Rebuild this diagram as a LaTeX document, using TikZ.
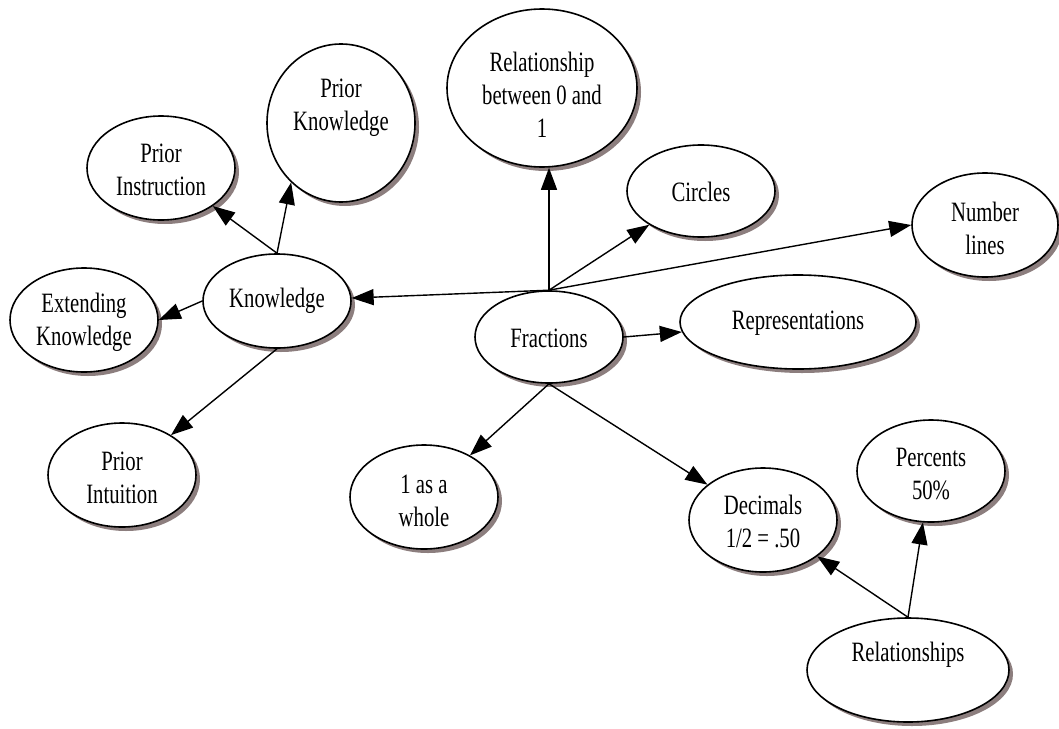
\documentclass[tikz,border=0pt]{standalone}
\usepackage{fontspec}
\setmainfont[FakeStretch=0.74]{Liberation Serif}
\usetikzlibrary{shapes.geometric,shadows,arrows.meta}
\definecolor{shadowc}{RGB}{140,126,126}
\tikzset{
  bubble/.style={ellipse, draw=black, line width=1.6pt, fill=white, inner sep=0pt,
    drop shadow={shadow xshift=4pt, shadow yshift=-4pt, fill=shadowc, opacity=1}},
  lbl/.style={align=center, font=\fontsize{28}{33}\selectfont, inner sep=0pt},
  link/.style={line width=1.4pt, -{Triangle[length=22pt,width=16pt]}}
}
\begin{document}
\begin{tikzpicture}[x=1pt,y=-1pt]
\useasboundingbox (0,0) rectangle (1059,728);

% concept bubbles
\node[bubble, minimum width=190pt, minimum height=158pt] (rel) at (542,88) {};
\node[bubble, minimum width=148pt, minimum height=158pt] (pk) at (341,123) {};
\node[bubble, minimum width=148pt, minimum height=104pt] (pi) at (161,168) {};
\node[bubble, minimum width=148pt, minimum height=92pt] (cir) at (701,191) {};
\node[bubble, minimum width=146pt, minimum height=104pt] (nl) at (985,225) {};
\node[bubble, minimum width=148pt, minimum height=94pt] (k) at (277,301) {};
\node[bubble, minimum width=148pt, minimum height=104pt] (ek) at (84,320) {};
\node[bubble, minimum width=148pt, minimum height=92pt] (f) at (549,337) {};
\node[bubble, minimum width=236pt, minimum height=94pt] (rep) at (798,322) {};
\node[bubble, minimum width=148pt, minimum height=104pt] (pint) at (122,475) {};
\node[bubble, minimum width=148pt, minimum height=104pt] (one) at (424,497) {};
\node[bubble, minimum width=148pt, minimum height=104pt] (dec) at (763,520) {};
\node[bubble, minimum width=148pt, minimum height=102pt] (pc) at (931,471) {};
\node[bubble, minimum width=202pt, minimum height=104pt] (rs) at (908,670) {};

% bubble texts
\node[lbl] (rel-t) at (542,95) {Relationship\\between 0 and\\1};
\node[lbl] (pk-t) at (341,108) {Prior\\Knowledge};
\node[lbl] (pi-t) at (161,170) {Prior\\Instruction};
\node[lbl] (cir-t) at (701,192) {Circles};
\node[lbl] (nl-t) at (985,228) {Number\\lines};
\node[lbl] (k-t) at (277,301) {Knowledge};
\node[lbl] (ek-t) at (84,322) {Extending\\Knowledge};
\node[lbl] (f-t) at (549,338) {Fractions};
\node[lbl] (rep-t) at (798,323) {Representations};
\node[lbl] (pint-t) at (122,478) {Prior\\Intuition};
\node[lbl] (one-t) at (424,501) {1 as a\\whole};
\node[lbl] (dec-t) at (763,521) {Decimals\\1/2 = .50};
\node[lbl] (pc-t) at (931,474) {Percents\\50\%};
\node[lbl] (rs-t) at (908,655) {Relationships};

% links
\draw[link] (f.north) -- (f.north |- rel.south);
\draw[link] (f.north) -- (cir);
\draw[link] (f.north) -- (nl.west);
\draw[link] (f.north) -- (k);
\draw[link] (f.east) -- (rep);
\draw[link] (f.south) -- (dec);
\draw[link] (f.south) -- (one);
\draw[link] (k.north) -- (pi);
\draw[link] (k.north) -- (pk.230);
\draw[link] (k.west) -- (ek.east);
\draw[link] (k.south) -- (pint);
\draw[link] (rs.north) -- (dec);
\draw[link] (rs.north) -- (pc);
\end{tikzpicture}
\end{document}
